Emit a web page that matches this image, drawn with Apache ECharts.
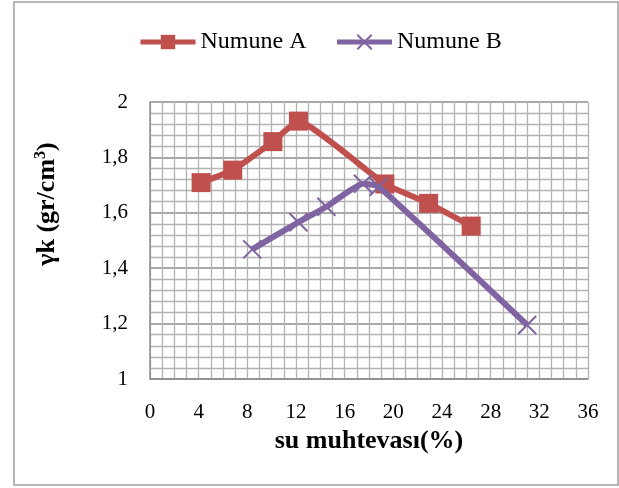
<!DOCTYPE html>
<html>
<head>
<meta charset="utf-8">
<script src="https://cdn.jsdelivr.net/npm/echarts@6/dist/echarts.min.js"></script>
<style>html,body{margin:0;padding:0;background:#fff}#c{width:619px;height:488px}</style>
</head>
<body>
<div id="c"></div>
<script>
var seriesNames = ['Numune A', 'Numune B'];
var numuneA_x = [4.2, 6.8, 10.1, 12.2, 19.3, 22.9, 26.4];
var numuneA_y = [1.709, 1.754, 1.857, 1.931, 1.704, 1.634, 1.552];
var numuneB_x = [8.4, 12.2, 14.5, 17.5, 18.8, 31.0];
var numuneB_y = [1.468, 1.566, 1.622, 1.705, 1.694, 1.195];
var xTicks = [0, 4, 8, 12, 16, 20, 24, 28, 32, 36];
var yTicks = [1, 1.2, 1.4, 1.6, 1.8, 2];
var xTitle = 'su muhtevası(%)';
var yTitle = ['γk (gr/cm', '3', ')'];

function pairs(xs, ys) { return xs.map(function (v, i) { return [v, ys[i]]; }); }

var FONT = 'Liberation Serif';
var chart = echarts.init(document.getElementById('c'));
chart.setOption({
  animation: false,
  backgroundColor: '#fff',
  graphic: [{
    type: 'rect', shape: { x: 14, y: 2, width: 604, height: 483 },
    style: { fill: 'none', stroke: '#a0a0a0', lineWidth: 1.5 }, silent: true, z: -1
  }, {
    type: 'text', x: 47, y: 204, rotation: Math.PI / 2, silent: true,
    style: {
      text: '{a|' + yTitle[0] + '}{s|' + yTitle[1] + '}{a|' + yTitle[2] + '}',
      align: 'center', verticalAlign: 'middle',
      rich: {
        a: { fontFamily: FONT, fontSize: 26, fontWeight: 'bold', fill: '#000' },
        s: { fontFamily: FONT, fontSize: 16, fontWeight: 'bold', fill: '#000', padding: [0, 0, 12, 0] }
      }
    }
  }],
  legend: {
    top: 25, left: 133, itemWidth: 55, itemHeight: 18, itemGap: 28,
    textStyle: { fontFamily: FONT, fontSize: 24, color: '#000' },
    lineStyle: { width: 5 },
    data: seriesNames
  },
  grid: { left: 150, right: 31, top: 102, bottom: 109, containLabel: false },
  xAxis: {
    type: 'value', min: xTicks[0], max: xTicks[xTicks.length - 1], interval: 4,
    name: xTitle, nameLocation: 'middle', nameGap: 41,
    nameTextStyle: { fontFamily: FONT, fontSize: 26, fontWeight: 'bold', color: '#000' },
    axisLine: { show: true, lineStyle: { color: '#8c8c8c', width: 1.5 } },
    axisTick: { show: false },
    axisLabel: { fontFamily: FONT, fontSize: 21, color: '#000', margin: 23 },
    splitLine: { show: true, lineStyle: { color: '#b3b3b3', width: 1.3 } },
    minorTick: { show: true, splitNumber: 4, length: 0 },
    minorSplitLine: { show: true, lineStyle: { color: '#b3b3b3', width: 1.3 } }
  },
  yAxis: {
    type: 'value', min: yTicks[0], max: yTicks[yTicks.length - 1], interval: 0.2,
    axisLine: { show: true, lineStyle: { color: '#8c8c8c', width: 1.5 } },
    axisTick: { show: false },
    axisLabel: {
      fontFamily: FONT, fontSize: 21, color: '#000', margin: 22,
      formatter: function (v) { return String(Math.round(v * 10) / 10).replace('.', ','); }
    },
    splitLine: { show: true, lineStyle: { color: '#8c8c8c', width: 1.5 } },
    minorTick: { show: true, splitNumber: 5, length: 0 },
    minorSplitLine: { show: true, lineStyle: { color: '#b3b3b3', width: 1.3 } }
  },
  series: [{
    name: seriesNames[0], type: 'line', data: pairs(numuneA_x, numuneA_y),
    smooth: 0.12, symbol: 'rect', symbolSize: 19,
    lineStyle: { color: '#c0504d', width: 6 },
    itemStyle: { color: '#c0504d' }, z: 2
  }, {
    name: seriesNames[1], type: 'line', data: pairs(numuneB_x, numuneB_y),
    smooth: 0.15, symbol: 'path://M0,0L10,10M10,0L0,10', symbolSize: 18,
    lineStyle: { color: '#8064a2', width: 6 },
    itemStyle: { color: 'none', borderColor: '#8064a2', borderWidth: 2 }, z: 3
  }]
});
</script>
</body>
</html>
